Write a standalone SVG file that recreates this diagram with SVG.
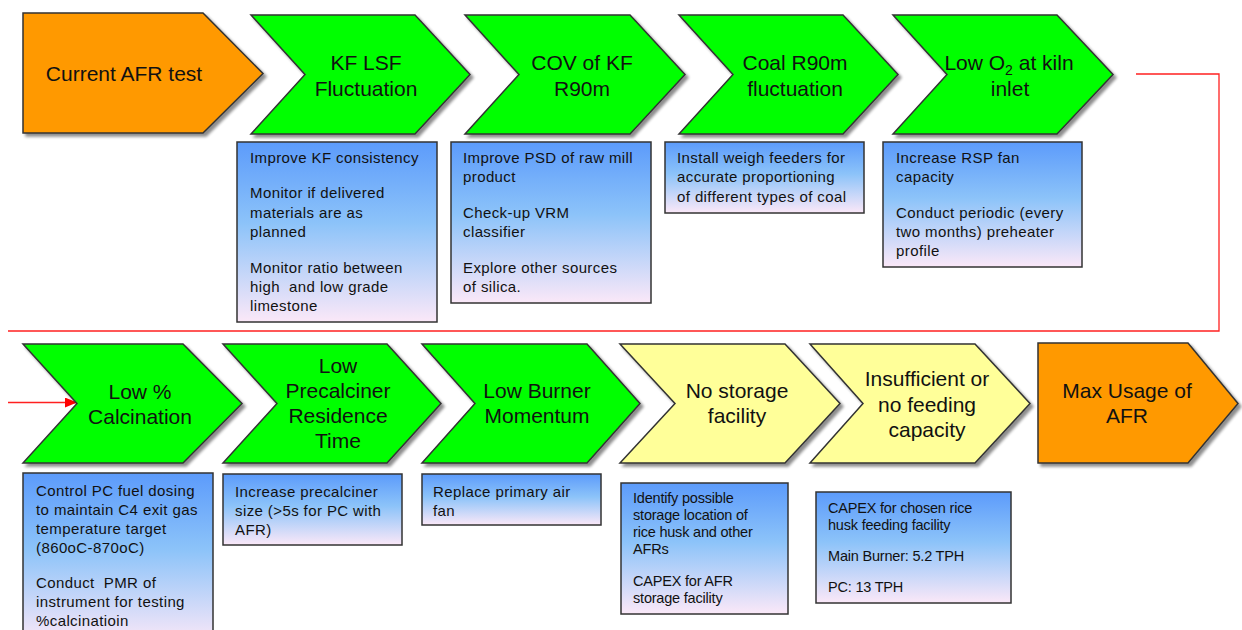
<svg xmlns="http://www.w3.org/2000/svg" width="1242" height="630" viewBox="0 0 1242 630">
<style>
.chev{stroke:#333;stroke-width:1.5;filter:url(#sh)}
.g{fill:#00ff00}
.o{fill:#ff9900}
.y{fill:#ffff99}
.box{fill:url(#bg);stroke:#333;stroke-width:1.5}
.lbl{font-family:"Liberation Sans",Arial,sans-serif;font-size:21px;fill:#111;text-anchor:middle}
.bt{font-family:"Liberation Sans",Arial,sans-serif;font-size:15px;letter-spacing:0.4px;fill:#111}
.bn{font-family:"Liberation Sans",Arial,sans-serif;font-size:14.5px;letter-spacing:-0.2px;fill:#111}
.conn{fill:none;stroke:#ff2020;stroke-width:1.3}
</style>
<defs>
<linearGradient id="bg" x1="0" y1="0" x2="0" y2="1">
<stop offset="0" stop-color="#5c9bfb"/>
<stop offset="0.45" stop-color="#8cc3f9"/>
<stop offset="1" stop-color="#fbe8f8"/>
</linearGradient>
<filter id="sh" x="-10%" y="-10%" width="130%" height="130%">
<feGaussianBlur in="SourceAlpha" stdDeviation="1.5"/>
<feOffset dx="3" dy="3" result="b"/>
<feComponentTransfer><feFuncA type="linear" slope="0.45"/></feComponentTransfer>
<feMerge><feMergeNode/><feMergeNode in="SourceGraphic"/></feMerge>
</filter>
<marker id="arr" markerWidth="12" markerHeight="10" refX="12" refY="5" orient="auto" markerUnits="userSpaceOnUse">
<path d="M0,0 L12,5 L0,10 Z" fill="#ff0000"/>
</marker>
</defs>
<rect width="1242" height="630" fill="#ffffff"/>

<g id="connectors">
<polyline class="conn" points="1136,74 1219,74 1219,331 8,331"/>
<line class="conn" x1="8" y1="402.5" x2="77" y2="402.5" marker-end="url(#arr)"/>
</g>

<g id="n-current">
<polygon class="chev o" points="23,13 203,13 263,73.5 203,133 23,133"/>
<text class="lbl" x="124" y="81">Current AFR test</text>
</g>

<g id="n-kflsf">
<polygon class="chev g" points="251,15 415,15 470,74.5 415,134 251,134 305,74.5"/>
<text class="lbl" x="366" y="70">KF LSF</text>
<text class="lbl" x="366" y="96">Fluctuation</text>
<rect class="box" x="237" y="142" width="200" height="180"/>
<text class="bt" x="250" y="163">Improve KF consistency</text>
<text class="bt" x="250" y="198">Monitor if delivered</text>
<text class="bt" x="250" y="218">materials are as</text>
<text class="bt" x="250" y="237">planned</text>
<text class="bt" x="250" y="273">Monitor ratio between</text>
<text class="bt" x="250" y="292" xml:space="preserve">high  and low grade</text>
<text class="bt" x="250" y="311">limestone</text>
</g>

<g id="n-cov">
<polygon class="chev g" points="465,15 630,15 685,74.5 630,134 465,134 519,74.5"/>
<text class="lbl" x="582" y="70">COV of KF</text>
<text class="lbl" x="582" y="96">R90m</text>
<rect class="box" x="451" y="142" width="200" height="161"/>
<text class="bt" x="463" y="163">Improve PSD of raw mill</text>
<text class="bt" x="463" y="182">product</text>
<text class="bt" x="463" y="218">Check-up VRM</text>
<text class="bt" x="463" y="237">classifier</text>
<text class="bt" x="463" y="273">Explore other sources</text>
<text class="bt" x="463" y="292">of silica.</text>
</g>

<g id="n-coal">
<polygon class="chev g" points="679,15 843,15 898,74.5 843,134 679,134 733,74.5"/>
<text class="lbl" x="795" y="70">Coal R90m</text>
<text class="lbl" x="795" y="96">fluctuation</text>
<rect class="box" x="665" y="142" width="199" height="71"/>
<text class="bt" x="677" y="163">Install weigh feeders for</text>
<text class="bt" x="677" y="182">accurate proportioning</text>
<text class="bt" x="677" y="202">of different types of coal</text>
</g>

<g id="n-o2">
<polygon class="chev g" points="893,15 1057,15 1113,74.5 1057,134 893,134 947,74.5"/>
<text class="lbl" x="1009" y="70">Low O<tspan font-size="14" dy="5">2</tspan><tspan dy="-5"> at kiln</tspan></text>
<text class="lbl" x="1010" y="96">inlet</text>
<rect class="box" x="883" y="142" width="199" height="125"/>
<text class="bt" x="896" y="163">Increase RSP fan</text>
<text class="bt" x="896" y="182">capacity</text>
<text class="bt" x="896" y="218">Conduct periodic (every</text>
<text class="bt" x="896" y="237">two months) preheater</text>
<text class="bt" x="896" y="256">profile</text>
</g>

<g id="n-calc">
<polygon class="chev g" points="23,344 183,344 242,403.5 183,463 23,463 77,403.5"/>
<text class="lbl" x="140" y="399">Low %</text>
<text class="lbl" x="140" y="424">Calcination</text>
<rect class="box" x="23" y="473" width="190" height="170"/>
<text class="bt" x="36" y="496">Control PC fuel dosing</text>
<text class="bt" x="36" y="515">to maintain C4 exit gas</text>
<text class="bt" x="36" y="534">temperature target</text>
<text class="bt" x="36" y="553">(860oC-870oC)</text>
<text class="bt" x="36" y="588" xml:space="preserve">Conduct  PMR of</text>
<text class="bt" x="36" y="607">instrument for testing</text>
<text class="bt" x="36" y="626">%calcinatioin</text>
</g>

<g id="n-precalc">
<polygon class="chev g" points="223,344 387,344 441,403.5 387,463 223,463 277,403.5"/>
<text class="lbl" x="338" y="373">Low</text>
<text class="lbl" x="338" y="398">Precalciner</text>
<text class="lbl" x="338" y="423">Residence</text>
<text class="lbl" x="338" y="448">Time</text>
<rect class="box" x="223" y="474" width="179" height="71"/>
<text class="bt" x="235" y="497">Increase precalciner</text>
<text class="bt" x="235" y="516">size (&gt;5s for PC with</text>
<text class="bt" x="235" y="535">AFR)</text>
</g>

<g id="n-burner">
<polygon class="chev g" points="422,344 587,344 640,403.5 587,463 422,463 475,403.5"/>
<text class="lbl" x="537" y="398">Low Burner</text>
<text class="lbl" x="537" y="423">Momentum</text>
<rect class="box" x="422" y="474" width="179" height="51"/>
<text class="bt" x="433" y="497">Replace primary air</text>
<text class="bt" x="433" y="516">fan</text>
</g>

<g id="n-storage">
<polygon class="chev y" points="620,344 785,344 840,403.5 785,463 620,463 675,403.5"/>
<text class="lbl" x="737" y="398">No storage</text>
<text class="lbl" x="737" y="423">facility</text>
<rect class="box" x="621" y="483" width="167" height="131"/>
<text class="bn" x="633" y="503">Identify possible</text>
<text class="bn" x="633" y="520">storage location of</text>
<text class="bn" x="633" y="537">rice husk and other</text>
<text class="bn" x="633" y="554">AFRs</text>
<text class="bn" x="633" y="586">CAPEX for AFR</text>
<text class="bn" x="633" y="603">storage facility</text>
</g>

<g id="n-feeding">
<polygon class="chev y" points="810,344 975,344 1030,403.5 975,463 810,463 863,403.5"/>
<text class="lbl" x="927" y="386">Insufficient or</text>
<text class="lbl" x="927" y="412">no feeding</text>
<text class="lbl" x="927" y="437">capacity</text>
<rect class="box" x="816" y="492" width="195" height="111"/>
<text class="bn" x="828" y="513">CAPEX for chosen rice</text>
<text class="bn" x="828" y="530">husk feeding facility</text>
<text class="bn" x="828" y="561">Main Burner: 5.2 TPH</text>
<text class="bn" x="828" y="592">PC: 13 TPH</text>
</g>

<g id="n-max">
<polygon class="chev o" points="1038,343 1188,343 1238,403.5 1188,463 1038,463"/>
<text class="lbl" x="1127" y="398">Max Usage of</text>
<text class="lbl" x="1127" y="423">AFR</text>
</g>
</svg>
